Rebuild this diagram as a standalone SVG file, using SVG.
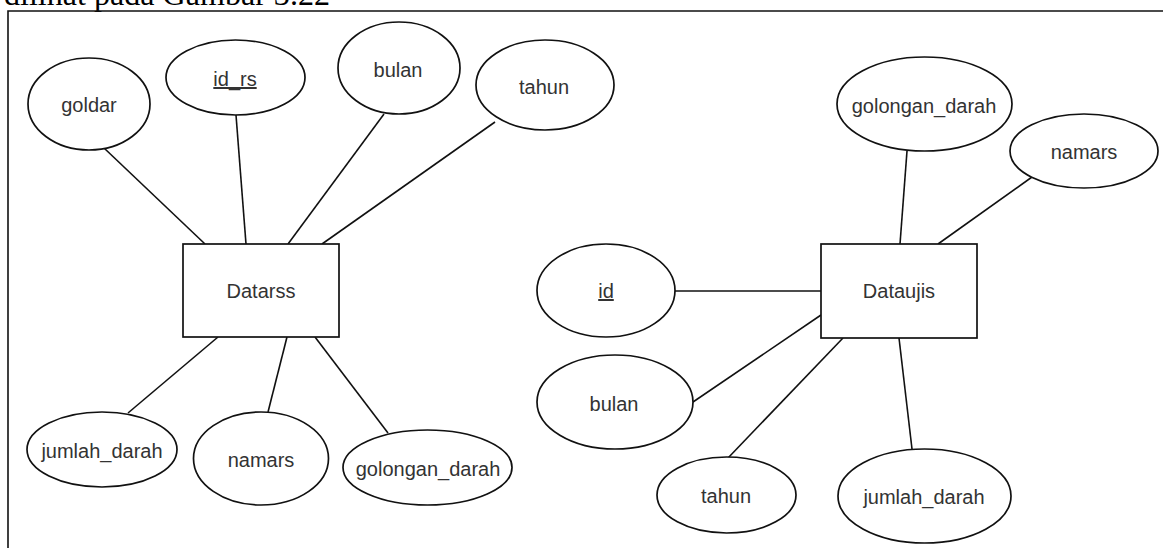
<svg xmlns="http://www.w3.org/2000/svg" width="1163" height="548" viewBox="0 0 1163 548">
  <style>
    .frame { fill: none; stroke: #111; stroke-width: 1.6; }
    .attr { fill: #fff; stroke: #111; stroke-width: 1.7; }
    .entity { fill: #fff; stroke: #111; stroke-width: 1.7; }
    .link { stroke: #111; stroke-width: 1.6; fill: none; }
    .lbl { font-family: "Liberation Sans", Arial, sans-serif; font-size: 20px; fill: #333; text-anchor: middle; }
    .key { text-decoration: underline; }
    .caption { font-family: "Liberation Serif", "Times New Roman", serif; font-size: 31px; fill: #000; }
  </style>

  <rect width="1163" height="548" fill="#fff"/>

  <!-- caption line above the figure (runs off the top edge) -->
  <text class="caption" x="4" y="5" textLength="326" lengthAdjust="spacingAndGlyphs">dilihat pada Gambar 3.22</text>

  <!-- figure border -->
  <path class="frame" d="M8,548 V11 H1163"/>

  <!-- connectors -->
  <g id="connectors">
    <!-- Datarss -->
    <line class="link" x1="104" y1="148" x2="205" y2="244"/>
    <line class="link" x1="236" y1="115" x2="246" y2="244"/>
    <line class="link" x1="384" y1="114" x2="288" y2="244"/>
    <line class="link" x1="495" y1="122" x2="322" y2="244"/>
    <line class="link" x1="128" y1="413" x2="218" y2="337"/>
    <line class="link" x1="268" y1="412" x2="287" y2="337"/>
    <line class="link" x1="388" y1="433" x2="315" y2="337"/>
    <!-- Dataujis -->
    <line class="link" x1="675" y1="291" x2="821" y2="291"/>
    <line class="link" x1="693" y1="402" x2="821" y2="315"/>
    <line class="link" x1="728" y1="458" x2="843" y2="338"/>
    <line class="link" x1="912" y1="449" x2="899" y2="338"/>
    <line class="link" x1="907" y1="151" x2="900" y2="244"/>
    <line class="link" x1="1032" y1="177" x2="938" y2="244"/>
  </g>

  <!-- entity: Datarss -->
  <g id="datarss">
    <rect class="entity" x="183" y="244" width="156" height="93"/>
    <text class="lbl" x="261" y="298">Datarss</text>
  </g>
  <g id="datarss-goldar">
    <ellipse class="attr" cx="89" cy="104" rx="61" ry="46"/>
    <text class="lbl" x="89" y="112">goldar</text>
  </g>
  <g id="datarss-id_rs">
    <ellipse class="attr" cx="235.5" cy="77.5" rx="69.5" ry="37.5"/>
    <text class="lbl key" x="235" y="86">id_rs</text>
  </g>
  <g id="datarss-bulan">
    <ellipse class="attr" cx="399" cy="68" rx="61" ry="46"/>
    <text class="lbl" x="398" y="77">bulan</text>
  </g>
  <g id="datarss-tahun">
    <ellipse class="attr" cx="545" cy="85" rx="69" ry="45"/>
    <text class="lbl" x="544" y="94">tahun</text>
  </g>
  <g id="datarss-jumlah_darah">
    <ellipse class="attr" cx="102" cy="449.5" rx="75" ry="37.5"/>
    <text class="lbl" x="102" y="458">jumlah_darah</text>
  </g>
  <g id="datarss-namars">
    <ellipse class="attr" cx="261" cy="458.5" rx="67.5" ry="46.5"/>
    <text class="lbl" x="261" y="467">namars</text>
  </g>
  <g id="datarss-golongan_darah">
    <ellipse class="attr" cx="427.5" cy="467.5" rx="84.5" ry="37.5"/>
    <text class="lbl" x="428" y="476">golongan_darah</text>
  </g>

  <!-- entity: Dataujis -->
  <g id="dataujis">
    <rect class="entity" x="821" y="244" width="156" height="94"/>
    <text class="lbl" x="899" y="298">Dataujis</text>
  </g>
  <g id="dataujis-id">
    <ellipse class="attr" cx="606" cy="290.5" rx="69" ry="46.5"/>
    <text class="lbl key" x="606" y="298">id</text>
  </g>
  <g id="dataujis-bulan">
    <ellipse class="attr" cx="615" cy="402" rx="78" ry="47"/>
    <text class="lbl" x="614" y="411">bulan</text>
  </g>
  <g id="dataujis-tahun">
    <ellipse class="attr" cx="726.5" cy="495" rx="69.5" ry="38"/>
    <text class="lbl" x="726" y="503">tahun</text>
  </g>
  <g id="dataujis-jumlah_darah">
    <ellipse class="attr" cx="924.5" cy="496" rx="86.5" ry="47"/>
    <text class="lbl" x="924" y="504">jumlah_darah</text>
  </g>
  <g id="dataujis-golongan_darah">
    <ellipse class="attr" cx="924.5" cy="104" rx="87.5" ry="47"/>
    <text class="lbl" x="924" y="113">golongan_darah</text>
  </g>
  <g id="dataujis-namars">
    <ellipse class="attr" cx="1084" cy="151" rx="74" ry="37"/>
    <text class="lbl" x="1084" y="159">namars</text>
  </g>
</svg>
